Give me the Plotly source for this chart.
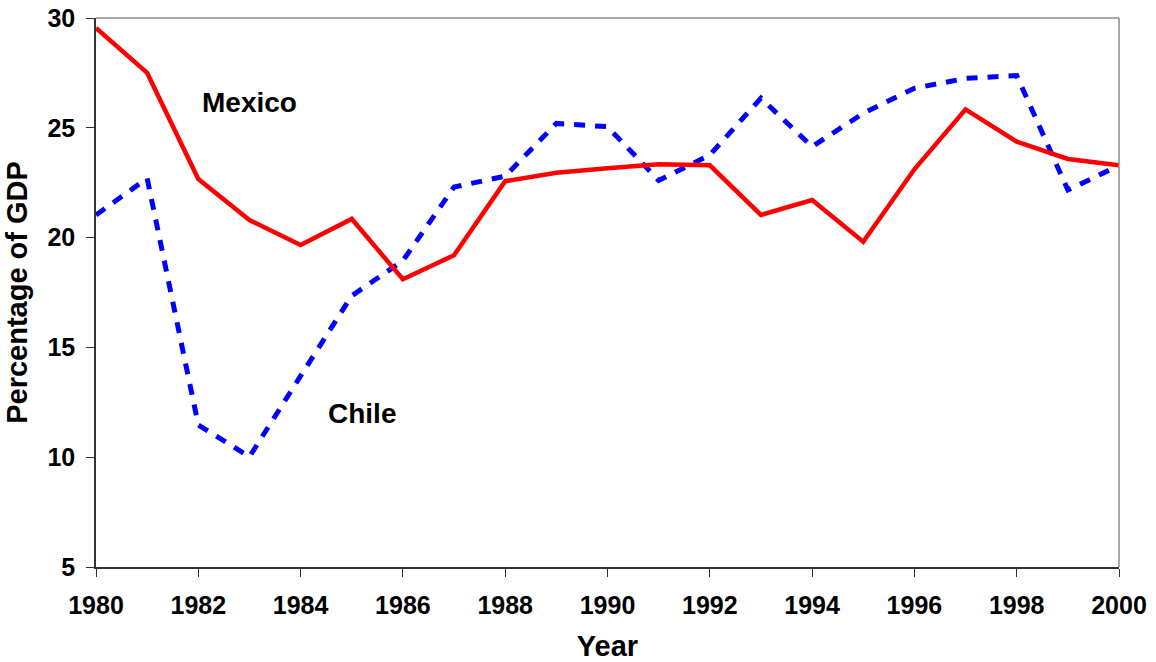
import plotly.graph_objects as go

years = list(range(1980, 2001))
mexico = [29.55, 27.5, 22.67, 20.8, 19.66, 20.85, 18.1, 19.2, 22.57, 22.95, 23.16,
          23.34, 23.29, 21.03, 21.71, 19.81, 23.11, 25.84, 24.37, 23.58, 23.29]
chile = [21.03, 22.7, 11.47, 10.02, 13.7, 17.35, 18.95, 22.3, 22.8, 25.2, 25.05,
         22.6, 23.76, 26.35, 24.14, 25.66, 26.8, 27.25, 27.38, 22.17, 23.28]

x_ticks = list(range(1980, 2001, 2))
y_ticks = [5, 10, 15, 20, 25, 30]

FONT = "Liberation Sans, Arial, sans-serif"

fig = go.Figure()
fig.add_trace(go.Scatter(x=years, y=chile, mode="lines", name="Chile",
                         line=dict(color="#0000FF", width=5, dash="11px,10px")))
fig.add_trace(go.Scatter(x=years, y=mexico, mode="lines", name="Mexico",
                         line=dict(color="#FF0000", width=4.5)))

fig.add_annotation(x=1983.0, y=26.13, text="<b>Mexico</b>", showarrow=False,
                   font=dict(size=28, color="black", family=FONT))
fig.add_annotation(x=1985.2, y=12.0, text="<b>Chile</b>", showarrow=False,
                   font=dict(size=28, color="black", family=FONT))

# top & right frame in grey
fig.add_shape(type="line", xref="paper", yref="paper", x0=0, x1=1, y0=1, y1=1,
              line=dict(color="#8c8c8c", width=1.5))
fig.add_shape(type="line", xref="paper", yref="paper", x0=1, x1=1, y0=0, y1=1,
              line=dict(color="#8c8c8c", width=1.5))

fig.update_layout(
    width=1156, height=662,
    margin=dict(l=96, r=37, t=18, b=95),
    paper_bgcolor="white", plot_bgcolor="white",
    showlegend=False,
    font=dict(family=FONT, color="black"),
)
fig.update_xaxes(
    range=[1980, 2000], tickvals=x_ticks, ticktext=[f"<b>{t}</b>" for t in x_ticks],
    showgrid=False, zeroline=False, showline=True, linecolor="#333333", linewidth=1.5,
    ticks="outside", ticklen=8, tickcolor="#333333", tickwidth=1.2,
    tickfont=dict(size=25, family=FONT, color="black"),
    ticklabelstandoff=7, ticklabeloverflow="allow",
    automargin=False,
    title=dict(text="<b>Year</b>", font=dict(size=29, family=FONT, color="black"), standoff=30),
)
fig.update_yaxes(
    range=[5, 30], tickvals=y_ticks, ticktext=[f"<b>{t}</b>" for t in y_ticks],
    showgrid=False, zeroline=False, showline=True, linecolor="#333333", linewidth=1.5,
    ticks="outside", ticklen=8, tickcolor="#333333", tickwidth=1.2,
    tickfont=dict(size=25, family=FONT, color="black"),
    ticklabelstandoff=6, ticklabeloverflow="allow",
    automargin=False,
    title=dict(text="<b>Percentage of GDP</b>", font=dict(size=29, family=FONT, color="black"), standoff=11),
)

# remove the default page margin so the figure fills the window exactly
fig.write_html("out.html",
               config={"displayModeBar": False},
               post_script="document.body.style.margin='0';document.body.style.overflow='hidden';")
